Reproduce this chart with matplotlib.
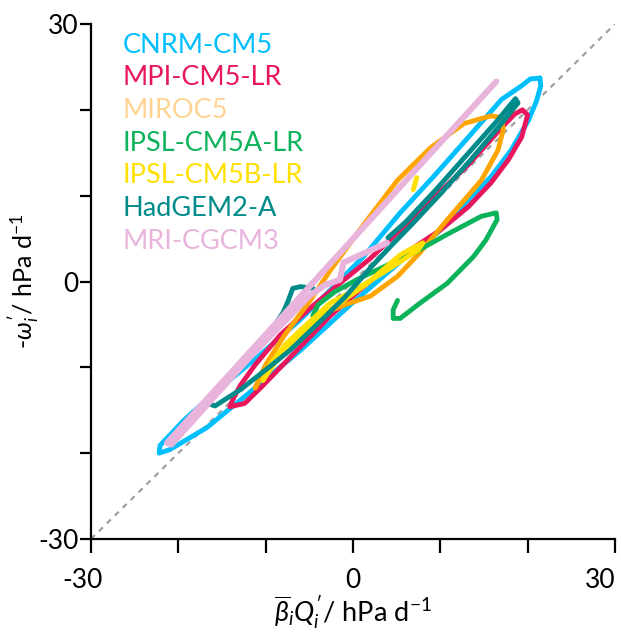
import matplotlib
matplotlib.use("Agg")
import matplotlib.pyplot as plt
import matplotlib.transforms as mtransforms
import numpy as np

plt.rcParams["font.family"] = ["Lato", "DejaVu Sans"]
plt.rcParams["mathtext.fontset"] = "custom"
plt.rcParams["mathtext.rm"] = "Lato"
plt.rcParams["mathtext.it"] = "Lato:italic"

models = ["CNRM-CM5", "MPI-CM5-LR", "MIROC5", "IPSL-CM5A-LR",
          "IPSL-CM5B-LR", "HadGEM2-A", "MRI-CGCM3"]
line_colors = ["#00BFFF", "#E8175D", "#FFA500", "#0DB35A",
               "#FFE000", "#008B8B", "#E8B4DC"]
text_colors = ["#00BFFF", "#E8175D", "#FFD391", "#0DB35A",
               "#FFE000", "#008B8B", "#E8B4DC"]

# heating term (x) and -omega (y), hPa/day
cnrm_x = [21.4, 20.3, 19.3, 17.0, 13.2, 9.2, 5.4, 1.2, -2.6, -6.1, -10.7, -15.2, -19.3,
          -22.1, -22.2, -21.0, -16.7, -11.8, -6.0, -0.3, 5.4, 9.7, 13.2, 15.8, 18.1,
          20.1, 21.0, 21.5, 21.4]
cnrm_y = [23.7, 23.6, 22.8, 21.2, 16.8, 12.2, 8.0, 2.9, -1.0, -4.5, -8.6, -12.4, -16.1,
          -19.1, -20.0, -19.6, -17.0, -12.9, -8.0, -2.7, 2.3, 5.7, 9.5, 12.2, 15.3,
          18.8, 21.0, 22.8, 23.7]

mpi_x = [-13.7, -14.1, -12.4, -10.3, -6.4, -2.6, 1.2, 5.4, 10.0, 13.2, 15.8, 17.8, 19.3,
         20.0, 19.4, 18.5, 17.0, 13.2, 9.2, 5.4, 2.0, -1.5, -4.9, -8.3, -11.2, -12.9, -13.7]
mpi_y = [-13.6, -14.6, -14.2, -12.1, -8.0, -4.0, -0.6, 2.9, 6.0, 8.7, 11.5, 14.2, 16.8,
         19.4, 20.0, 19.5, 17.9, 13.6, 9.7, 6.0, 2.7, -0.2, -3.1, -6.2, -9.7, -12.1, -13.6]

miroc_x = [-11.2, -10.0, -7.8, -4.9, -2.6, 1.2, 5.1, 8.9, 12.7, 15.8, 17.0, 17.2, 16.6,
           14.7, 10.8, 7.7, 5.1, 2.0, -0.9, -3.8, -6.4, -8.9, -10.6, -11.2]
miroc_y = [-12.4, -9.7, -6.2, -2.2, 1.3, 6.6, 11.8, 15.6, 18.4, 19.3, 19.1, 17.7, 15.3,
           11.8, 7.2, 3.4, 0.6, -1.7, -2.7, -3.9, -6.2, -8.8, -11.2, -12.4]

ipsla_x = [-4.6, -4.0, -2.1, 0.8, 3.7, 6.9, 10.8, 14.7, 16.4, 16.5, 15.2, 13.8, 10.8,
           7.7, 5.4, 4.6, 4.6, 5.1]
ipsla_y = [-4.0, -2.7, -1.2, 0.4, 1.8, 3.3, 5.5, 7.6, 8.0, 7.2, 4.8, 2.9, -0.2,
           -2.5, -4.3, -4.3, -3.3, -2.2]

ipslb_x = [-10.3, -8.9, -6.6, -4.0, -1.5, 1.4, 3.7, 5.4, 7.2, 8.0, 7.5, 5.4, 3.1, 0.2,
           -2.6, -5.4, -7.8, -9.5, -10.3, np.nan, 6.9, 7.3]
ipslb_y = [-11.5, -9.4, -6.8, -4.3, -2.5, -0.4, 1.6, 3.1, 4.1, 4.5, 3.7, 2.3, 0.8, -1.0,
           -2.5, -5.1, -7.4, -9.7, -11.5, np.nan, 10.7, 12.1]

hadgem_x = [-4.6, -6.0, -6.9, -7.4, -8.0, -9.5, -11.8, -13.9, -15.8, -16.6, -15.8, -12.9,
            -10.0, -7.2, -3.8, -0.9, 2.0, 4.3, 6.6, 10.0, 13.5, 17.0, 18.9, 18.6, 16.4,
            12.9, 9.5, 6.0, 4.0]
hadgem_y = [-0.8, -0.6, -0.8, -2.2, -3.6, -5.9, -8.6, -10.9, -13.2, -14.2, -14.5, -12.6,
            -10.3, -8.0, -4.7, -1.8, 1.6, 4.1, 6.5, 10.2, 14.2, 18.4, 20.8, 21.3, 18.6,
            14.6, 10.7, 6.9, 5.1]

mri_x = [16.4, 7.7, -1.5, -11.8, -21.3, -20.8, -11.8, -4.9, -3.2, -1.5, -1.1, 3.9]
mri_y = [23.3, 13.6, 3.3, -8.2, -18.8, -19.0, -8.8, -1.6, -0.4, 0.2, 2.2, 4.5]

xs = [cnrm_x, mpi_x, miroc_x, ipsla_x, ipslb_x, hadgem_x, mri_x]
ys = [cnrm_y, mpi_y, miroc_y, ipsla_y, ipslb_y, hadgem_y, mri_y]

fig = plt.figure(figsize=(6.21, 6.35), dpi=100)
ax = fig.add_axes([91 / 621, 96 / 635, 524 / 621, 515 / 635])

ax.plot([-30, 30], [-30, 30], color="#A0A0A0", lw=1.6, ls=(0, (2.5, 2.5)), zorder=1)

for x, y, c in zip(xs, ys, line_colors):
    lw = 4.4 if c == "#E8B4DC" else 3.5
    ax.plot(x, y, color=c, lw=lw, solid_capstyle="round", solid_joinstyle="round", zorder=2)

for i, (name, c) in enumerate(zip(models, text_colors)):
    ax.text(0.061, 0.959 - i * 0.0635, name, color=c, fontsize=19.5,
            transform=ax.transAxes, va="center", ha="left")

ax.set_xlim(-30, 30)
ax.set_ylim(-30, 30)
ax.set_xticks(np.arange(-30, 31, 10))
ax.set_xticklabels(["-30", "", "", "0", "", "", "30"])
ax.set_yticks(np.arange(-30, 31, 10))
ax.set_yticklabels(["-30", "", "", "0", "", "", "30"])

for s in ["top", "right"]:
    ax.spines[s].set_visible(False)
for s in ["left", "bottom"]:
    ax.spines[s].set_linewidth(1.6)
ax.tick_params(axis="x", direction="out", length=10, width=1.6, pad=11, labelsize=19)
ax.tick_params(axis="y", direction="out", length=8, width=1.6, pad=1, labelsize=19)

# first and last x labels sit slightly inward as in the original
xl = ax.get_xticklabels()
xl[0].set_transform(xl[0].get_transform() + mtransforms.ScaledTranslation(-0.08, 0, fig.dpi_scale_trans))
xl[-1].set_horizontalalignment("right")

ax.set_xlabel(r"$\overline{\beta}_i Q_i^{\prime}$/ hPa d$^{-1}$", fontsize=19.5, labelpad=0)
ax.set_ylabel(r"-$\omega_i^{\prime}$/ hPa d$^{-1}$", fontsize=18, labelpad=-3)

fig.savefig("out.png", dpi=100)
